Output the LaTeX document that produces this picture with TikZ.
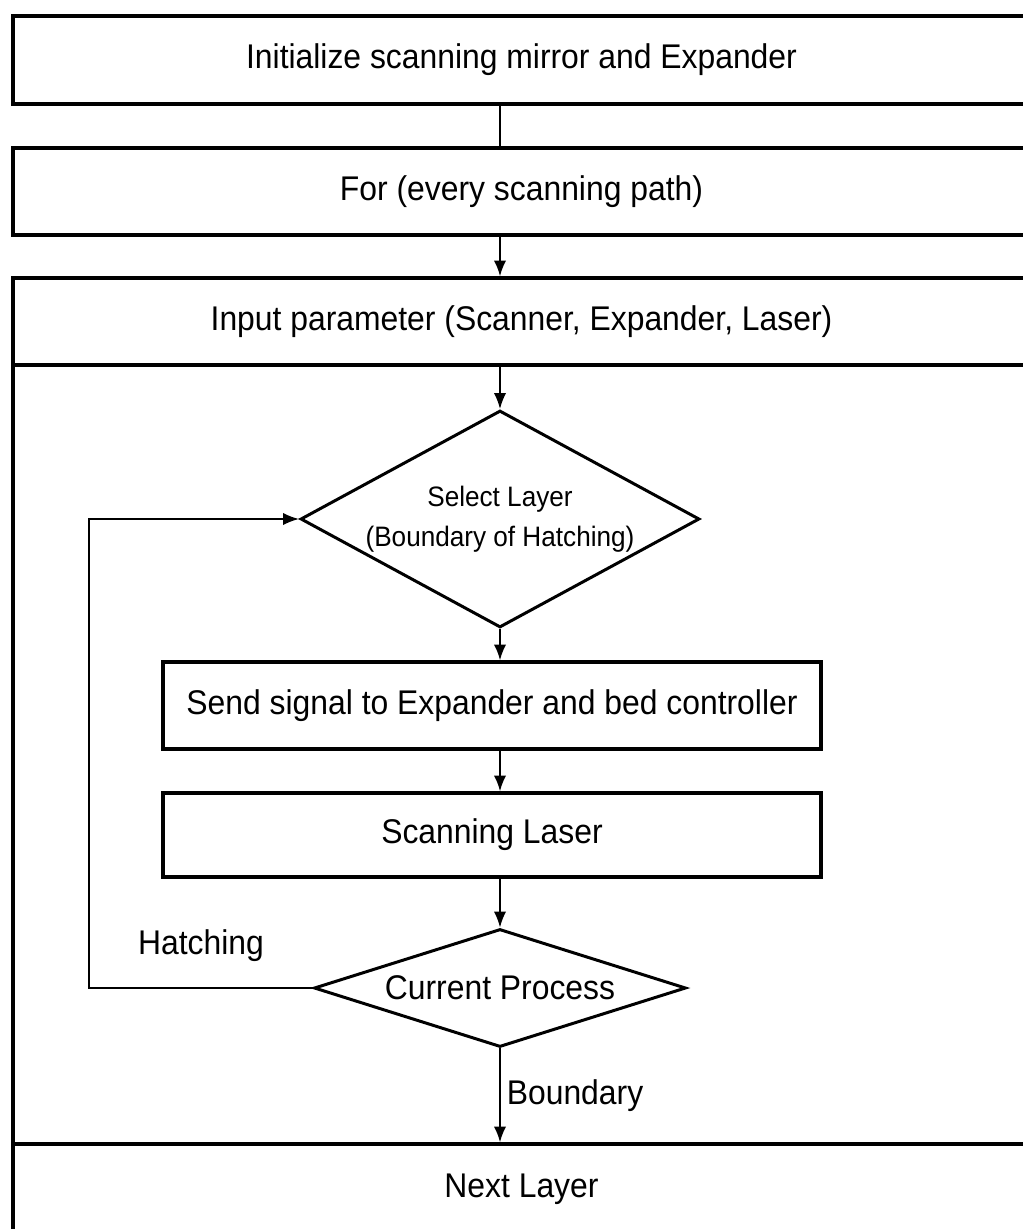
\documentclass[tikz,border=0pt]{standalone}
\usepackage{fontspec}
\setmainfont{Liberation Sans}[FakeStretch=0.93]
\usetikzlibrary{shapes.geometric,arrows.meta}
\tikzset{
  stepbox/.style={draw, line width=1.9pt, rectangle, inner sep=0pt, font=\fontsize{19.5}{23}\selectfont},
  decide/.style={draw, line width=1.7pt, diamond, inner sep=-2pt, align=center},
  flow/.style={line width=1.1pt, -{Latex[length=9pt,width=7pt]}},
}

\begin{document}
\begin{tikzpicture}[x=0.02cm, y=-0.02cm]
        \useasboundingbox (0,0) rectangle (1023,1229);
        \node[stepbox, minimum width=20.34cm, minimum height=1.76cm] (init) at (521.5,60) {Initialize scanning mirror and Expander};
        \node[stepbox, minimum width=20.34cm, minimum height=1.74cm] (forpath) at (521.5,191.5) {For (every scanning path)};
        \node[stepbox, minimum width=20.34cm, minimum height=1.74cm] (input) at (521.5,321.5) {Input parameter (Scanner, Expander, Laser)};
        \node[stepbox, minimum width=20.34cm, minimum height=15.58cm] (body) at (521.5,754.5) {};
        \node[stepbox, minimum width=20.34cm, minimum height=1.82cm] (next) at (521.5,1189.5) {Next Layer};
        \node[decide, aspect=1.84, minimum width=7.98cm, minimum height=4.34cm, font=\fontsize{16}{22.8}\selectfont] (sel) at (500,519) {Select Layer\\(Boundary of Hatching)};
        \node[stepbox, minimum width=13.16cm, minimum height=1.74cm] (send) at (492,705.5) {Send signal to Expander and bed controller};
        \node[stepbox, minimum width=13.16cm, minimum height=1.68cm] (laser) at (492,835) {Scanning Laser};
        \node[decide, aspect=3.15, minimum width=7.44cm, minimum height=2.36cm, font=\fontsize{19.5}{23}\selectfont] (cur) at (500,988) {Current Process};
        \node[font=\fontsize{19.5}{23}\selectfont] (hatch) at (201,946) {Hatching};
        \coordinate (turn) at (89,988);
        \draw[line width=1.1pt] (init.south -| sel.north) -- (forpath.north -| sel.north);
        \draw[flow] (forpath.south -| sel.north) -- (input.north -| sel.north);
        \draw[flow] (input.south -| sel.north) -- (sel.north);
        \draw[flow] (sel.south) -- (sel.south |- send.north);
        \draw[flow] (send.south -| sel.south) -- (laser.north -| sel.south);
        \draw[flow] (laser.south -| cur.north) -- (cur.north);
        \draw[flow] (cur.south) -- node[right, font=\fontsize{19.5}{23}\selectfont]{Boundary} (cur.south |- next.north);
        \draw[flow] (cur.west) -- (turn) |- (sel.west);
    \end{tikzpicture}
\end{document}
